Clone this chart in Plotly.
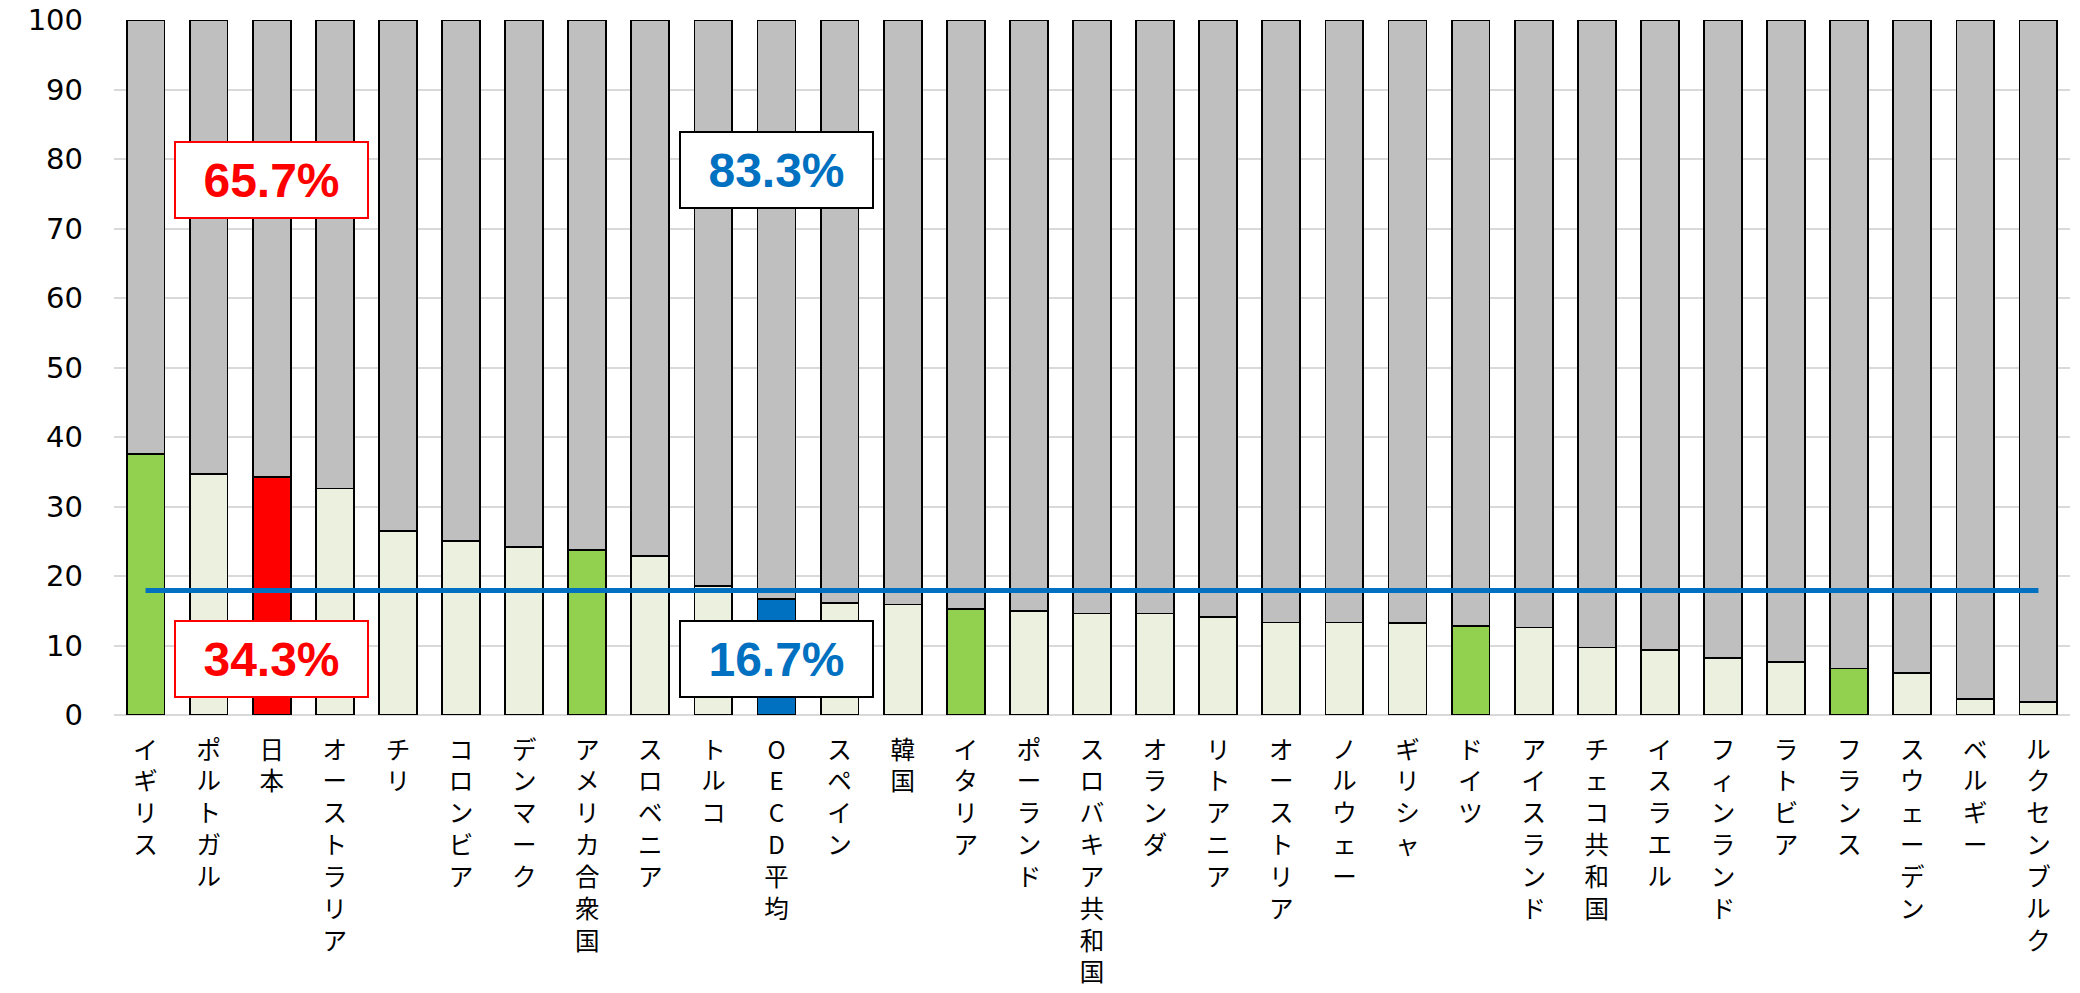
import plotly.graph_objects as go

# Countries in display order
countries = [
    "イギリス", "ポルトガル", "日本", "オーストラリア", "チリ", "コロンビア",
    "デンマーク", "アメリカ合衆国", "スロベニア", "トルコ", "OECD平均", "スペイン",
    "韓国", "イタリア", "ポーランド", "スロバキア共和国", "オランダ", "リトアニア",
    "オーストリア", "ノルウェー", "ギリシャ", "ドイツ", "アイスランド", "チェコ共和国",
    "イスラエル", "フィンランド", "ラトビア", "フランス", "スウェーデン", "ベルギー",
    "ルクセンブルク",
]

# Lower segment (%)
share = [
    37.6, 34.7, 34.3, 32.6, 26.5, 25.0,
    24.2, 23.7, 22.9, 18.6, 16.7, 16.1,
    15.9, 15.2, 15.0, 14.6, 14.6, 14.1,
    13.3, 13.3, 13.2, 12.8, 12.6, 9.7,
    9.4, 8.2, 7.6, 6.7, 6.0, 2.3,
    1.9,
]

# Upper segment (%)
rest = [
    62.4, 65.3, 65.7, 67.4, 73.5, 75.0,
    75.8, 76.3, 77.1, 81.4, 83.3, 83.9,
    84.1, 84.8, 85.0, 85.4, 85.4, 85.9,
    86.7, 86.7, 86.8, 87.2, 87.4, 90.3,
    90.6, 91.8, 92.4, 93.3, 94.0, 97.7,
    98.1,
]

# Horizontal reference level
ref_level = 17.9

green_group = {"イギリス", "アメリカ合衆国", "イタリア", "ドイツ", "フランス"}

C_GREEN = "#92D050"
C_PALE = "#EBF1DE"
C_RED = "#FF0000"
C_BLUE = "#0070C0"
C_GRAY = "#BFBFBF"


def lower_color(name):
    if name == "日本":
        return C_RED
    if name == "OECD平均":
        return C_BLUE
    if name in green_group:
        return C_GREEN
    return C_PALE


# Stack characters so the category names read top-to-bottom
tick_text = ["<br>".join(list(c)) for c in countries]

fig = go.Figure()

fig.add_trace(go.Bar(
    x=countries, y=share,
    marker=dict(color=[lower_color(c) for c in countries],
                line=dict(color="#000000", width=1.8)),
    hoverinfo="x+y",
))
fig.add_trace(go.Bar(
    x=countries, y=rest,
    marker=dict(color=C_GRAY, line=dict(color="#000000", width=1.8)),
    hoverinfo="x+y",
))
fig.add_trace(go.Scatter(
    x=[countries[0], countries[-1]], y=[ref_level, ref_level],
    mode="lines",
    line=dict(color=C_BLUE, width=5),
    hoverinfo="y",
))

jp = countries.index("日本")
oecd = countries.index("OECD平均")


def value_box(xcat, yval, text, color, border):
    return dict(
        x=xcat, y=yval, xref="x", yref="y",
        text=text, showarrow=False,
        font=dict(family="Liberation Sans, Arial, sans-serif", size=48, color=color),
        bgcolor="#FFFFFF", bordercolor=border, borderwidth=2, borderpad=0,
        width=191, height=74, align="center", valign="middle",
    )


annotations = [
    value_box(countries[jp], 77.05, f"<b>{rest[jp]:.1f}%</b>", C_RED, C_RED),
    value_box(countries[jp], 8.0, f"<b>{share[jp]:.1f}%</b>", C_RED, C_RED),
    value_box(countries[oecd], 78.4, f"<b>{rest[oecd]:.1f}%</b>", C_BLUE, "#000000"),
    value_box(countries[oecd], 8.0, f"<b>{share[oecd]:.1f}%</b>", C_BLUE, "#000000"),
]

fig.update_layout(
    width=2080, height=993,
    margin=dict(l=113.5, r=9.5, t=20, b=277.6, pad=0, autoexpand=False),
    barmode="stack", bargap=0.4,
    showlegend=False,
    plot_bgcolor="#FFFFFF", paper_bgcolor="#FFFFFF",
    annotations=annotations,
    font=dict(family="Noto Sans CJK JP, sans-serif", color="#000000"),
)

fig.update_xaxes(
    tickmode="array", tickvals=countries, ticktext=tick_text,
    tickangle=0, automargin=False,
    tickfont=dict(family="Noto Sans CJK JP", size=24.5, color="#000000"),
    showgrid=False, showline=False, ticks="", zeroline=False,
    ticklabelstandoff=18,
)
fig.update_yaxes(
    range=[0, 100], dtick=10, tick0=0, automargin=False,
    tickfont=dict(family="DejaVu Sans, Verdana, sans-serif", size=29, color="#000000"),
    showgrid=True, gridcolor="#D9D9D9", gridwidth=1.5,
    zeroline=True, zerolinecolor="#D9D9D9", zerolinewidth=1.5,
    showline=False, ticks="", ticklabelstandoff=30,
)

fig.write_html("out.html")
